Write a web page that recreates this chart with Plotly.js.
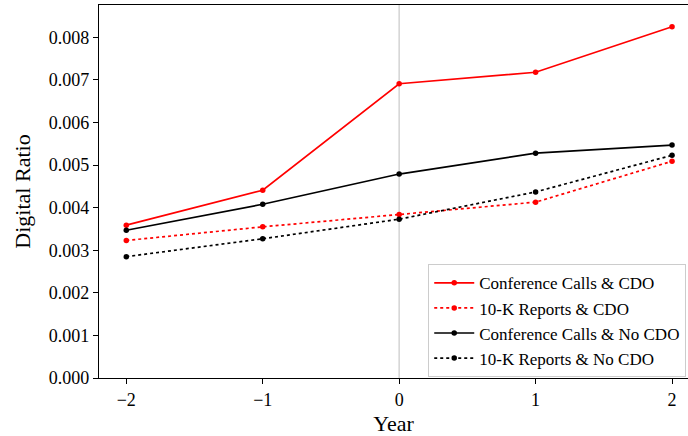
<!DOCTYPE html>
<html><head><meta charset="utf-8">
<script src="https://cdn.plot.ly/plotly-3.0.1.min.js"></script>
<style>html,body{margin:0;padding:0;overflow:hidden;background:#fff}</style>
</head><body><div id="chart" style="width:688px;height:436px"></div>
<script>
const years = [-2, -1, 0, 1, 2];
const confCallsCDO = [0.00359, 0.00441, 0.00691, 0.00718, 0.00825];
const tenKCDO = [0.00323, 0.00355, 0.00384, 0.00413, 0.00509];
const confCallsNoCDO = [0.00347, 0.00408, 0.00479, 0.00528, 0.00547];
const tenKNoCDO = [0.00285, 0.00327, 0.00373, 0.00437, 0.00523];
const seriesNames = ["Conference Calls & CDO", "10-K Reports & CDO", "Conference Calls & No CDO", "10-K Reports & No CDO"];
const yTicks = [0, 0.001, 0.002, 0.003, 0.004, 0.005, 0.006, 0.007, 0.008];
const FF = '"Times New Roman", "Liberation Serif", serif';

function tr(y, name, color, dash) {
  return {x: years, y: y, name: name, type: 'scatter', mode: 'lines+markers',
    line: {color: color, width: 1.7, dash: dash}, marker: {color: color, size: 5.5}};
}
const data = [
  tr(confCallsCDO, seriesNames[0], '#ff0000', 'solid'),
  tr(tenKCDO, seriesNames[1], '#ff0000', 'dot'),
  tr(confCallsNoCDO, seriesNames[2], '#000000', 'solid'),
  tr(tenKNoCDO, seriesNames[3], '#000000', 'dot')
];
const layout = {
  width: 688, height: 436,
  margin: {l: 99, r: 0, t: 5, b: 58},
  paper_bgcolor: '#fff', plot_bgcolor: '#fff',
  font: {family: FF, color: '#000', size: 18},
  showlegend: true,
  legend: {x: 0.997, y: 0.305, xanchor: 'right', yanchor: 'top', bordercolor: '#cccccc', borderwidth: 1,
    bgcolor: 'rgba(255,255,255,0.9)', font: {family: FF, size: 17, color: '#000'}, itemwidth: 40},
  xaxis: {range: [-2.2, 2.117], tickvals: years, ticktext: ['\u22122', '\u22121', '0', '1', '2'],
    showgrid: false, zeroline: false, showline: true, linecolor: '#000', linewidth: 1.2, mirror: true,
    ticks: 'outside', ticklen: 5, tickcolor: '#000', tickfont: {family: FF, size: 18, color: '#000'},
    title: {text: 'Year', font: {family: FF, size: 22, color: '#000'}, standoff: 12}},
  yaxis: {range: [0, 0.00876], tickvals: yTicks, tickformat: '.3f',
    showgrid: false, zeroline: false, showline: true, linecolor: '#000', linewidth: 1.2,
    ticks: 'outside', ticklen: 5, tickcolor: '#000', tickfont: {family: FF, size: 18, color: '#000'},
    title: {text: 'Digital Ratio', font: {family: FF, size: 22, color: '#000'}, standoff: 12}},
  shapes: [{type: 'line', xref: 'x', yref: 'paper', x0: 0, x1: 0, y0: 0, y1: 1,
    line: {color: '#d3d3d3', width: 1.5}, layer: 'below'}]
};
Plotly.newPlot('chart', data, layout, {displayModeBar: false, staticPlot: true});
</script></body></html>
